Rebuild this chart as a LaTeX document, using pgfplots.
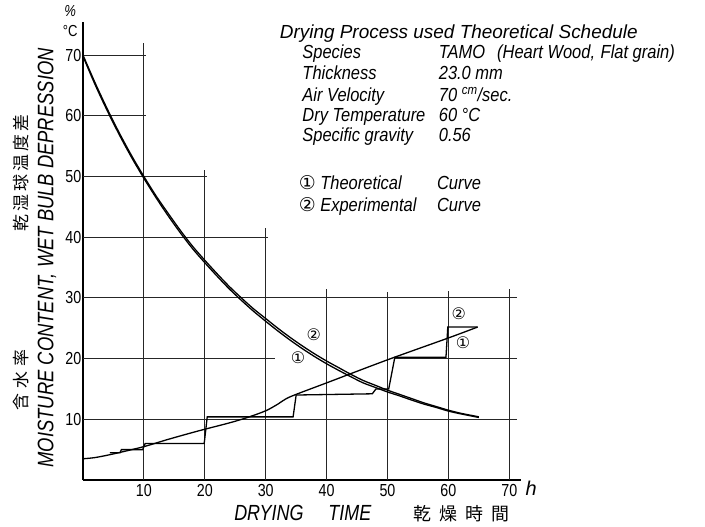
\documentclass[border=0pt]{standalone}
\usepackage{pgfplots}
\pgfplotsset{compat=1.18}
\usepackage{fontspec}
\setmainfont{Liberation Sans}
\newfontfamily\hand{Liberation Sans}
\newfontfamily\handc[FakeStretch=0.87]{Liberation Sans}
\newfontfamily\cond[FakeStretch=0.82]{Liberation Sans}
\newfontfamily\cjk{Noto Sans CJK JP}
\newfontfamily\sym{DejaVu Sans}
\begin{document}
\begin{tikzpicture}
\useasboundingbox (-83bp,-47bp) rectangle (622bp,480bp);
\begin{axis}[
  anchor=south west, at={(0,0)},
  x=6.09bp, y=6.07bp,
  xmin=0, xmax=72, ymin=0, ymax=75.5,
  axis x line=bottom, axis y line=left,
  axis line style={-, line width=1.3bp},
  xtick={10,20,...,70}, ytick={10,20,...,70},
  major tick length=0pt,
  tick label style={font=\cond\fontsize{17.5}{17.5}\selectfont},
  /pgf/number format/assume math mode=true,
  xticklabel style={yshift=-1bp},
  yticklabel style={inner sep=1.5bp},
  clip=false,
]
% grid segments (hand-drawn staircase grid)
\pgfplotsset{grid seg/.style={line width=0.9bp, black!85}}
\addplot[grid seg] coordinates {(0,70) (10.4,70)};
\addplot[grid seg] coordinates {(0,60) (10.4,60)};
\addplot[grid seg] coordinates {(0,50) (20.4,50)};
\addplot[grid seg] coordinates {(0,40) (30.4,40)};
\addplot[grid seg] coordinates {(0,30) (71.3,30)};
\addplot[grid seg] coordinates {(0,20) (31.5,20)};
\addplot[grid seg] coordinates {(51.2,20) (71.3,20)};
\addplot[grid seg] coordinates {(0,10) (71.3,10)};
\addplot[grid seg] coordinates {(10,0) (10,72)};
\addplot[grid seg] coordinates {(20,0) (20,51)};
\addplot[grid seg] coordinates {(30,0) (30,41.5)};
\addplot[grid seg] coordinates {(40,0) (40,31.4)};
\addplot[grid seg] coordinates {(50,0) (50,30.9)};
\addplot[grid seg] coordinates {(60,0) (60,31.1)};
\addplot[grid seg] coordinates {(70,0) (70,31.4)};
% moisture content curve (2) experimental (upper)
\addplot[line width=1.3bp, smooth] coordinates {
(0,70)(2,65.4)(4,61.1)(6,57.1)(8,53.4)(10,50.0)(12,46.8)(14,43.9)(16,41.1)(18,38.5)
(20,36.2)(22,34.0)(24,31.9)(26,30.0)(28,28.2)(30,26.6)(32,25.0)(34,23.5)(36,22.1)
(38,20.8)(40,19.6)(42,18.5)(44,17.4)(46,16.4)(48,15.6)(50,14.8)(52,14.1)(54,13.4)
(56,12.7)(58,12.1)(60,11.5)(62,11.0)(64,10.6)(65,10.4)};
% moisture content curve (1) theoretical (lower)
\addplot[line width=1.3bp, smooth] coordinates {
(0,69.8)(2,65.1)(4,60.8)(6,56.8)(8,53.1)(10,49.7)(12,46.5)(14,43.5)(16,40.7)(18,38.1)
(20,35.8)(22,33.6)(24,31.5)(26,29.6)(28,27.8)(30,26.15)(32,24.55)(34,23.05)(36,21.65)
(38,20.35)(40,19.15)(42,18.05)(44,17.0)(46,16.0)(48,15.25)(50,14.5)(52,13.85)(54,13.15)
(56,12.5)(58,11.95)(60,11.35)(62,10.9)(64,10.5)(65,10.3)};
% wet bulb depression (1) theoretical, smooth
\addplot[line width=1.3bp, smooth] coordinates {
(0,3.5)(2,3.7)(5,4.3)(10,5.5)(14,6.7)(19,8.1)(24,9.4)(27,10.3)(30,11.4)(32,12.5)
(34,13.7)(40,16.0)(50,19.8)(60,23.4)(64.8,25.2)};
% wet bulb depression (2) experimental, stepped
\addplot[line width=1.3bp] coordinates {
(4.4,4.5)(6.1,4.5)(6.3,5.0)(9.8,5.0)(10.2,6.0)(19.9,6.0)(20.4,10.4)(34.5,10.4)
(35.0,14.0)(47.5,14.2)(48.1,15.0)(50.2,15.0)(51.2,20.2)(59.6,20.2)(59.9,25.2)(64.8,25.2)};
% curve labels
\node[font=\sym\fontsize{16}{16}\selectfont] at (axis cs:37.9,23.9) {②};
\node[font=\sym\fontsize{16}{16}\selectfont] at (axis cs:35.3,20.2) {①};
\node[font=\sym\fontsize{16}{16}\selectfont] at (axis cs:61.7,27.4) {②};
\node[font=\sym\fontsize{16}{16}\selectfont] at (axis cs:62.4,22.6) {①};
% axis unit labels
\node[font=\cond\itshape\fontsize{16}{16}\selectfont] at (axis cs:-2.1,77.2) {\%};
\node[font=\cond\fontsize{16}{16}\selectfont] at (axis cs:-2.1,73.9) {°C};
\node[font=\hand\itshape\fontsize{20}{20}\selectfont] at (axis cs:73.6,-1.4) {h};
% y label
\node[rotate=90, font=\cond\itshape\fontsize{22.5}{22.5}\selectfont] at (axis cs:-5.9,36.6)
  {MOISTURE CONTENT, WET BULB DEPRESSION};
\node[rotate=90, font=\cjk\fontsize{17}{17}\selectfont] at (axis cs:-10.1,50.6)
  {乾\hspace{3bp}湿\hspace{3bp}球\hspace{3bp}温\hspace{3bp}度\hspace{3bp}差};
\node[rotate=90, font=\cjk\fontsize{17}{17}\selectfont] at (axis cs:-10.1,16.5)
  {含\hspace{5bp}水\hspace{5bp}率};
% x label
\node[font=\cond\itshape\fontsize{22}{22}\selectfont] at (axis cs:36.1,-5.5)
  {DRYING\hspace{25bp}TIME};
\node[font=\cjk\fontsize{18}{18}\selectfont] at (axis cs:62.2,-5.5)
  {乾\hspace{8bp}燥\hspace{8bp}時\hspace{8bp}間};
% info block
\begin{scope}[every node/.style={anchor=base west, inner sep=0pt, font=\handc\itshape\fontsize{19}{19}\selectfont}]
\node[font=\hand\itshape\fontsize{19}{19}\selectfont] at (axis cs:32.3,72.8) {Drying Process used Theoretical Schedule};
\node at (axis cs:36.0,69.5) {Species};
\node at (axis cs:58.4,69.5) {TAMO\hspace{12bp}(Heart Wood,\hspace{1bp} Flat grain)};
\node at (axis cs:36.0,65.9) {Thickness};
\node at (axis cs:58.4,65.9) {23.0 mm};
\node at (axis cs:36.0,62.4) {Air Velocity};
\node at (axis cs:58.4,62.4) {70 \textsuperscript{cm}/sec.};
\node at (axis cs:36.0,59.1) {Dry Temperature};
\node at (axis cs:58.4,59.1) {60 °C};
\node at (axis cs:36.0,55.8) {Specific gravity};
\node at (axis cs:58.4,55.8) {0.56};
\node at (axis cs:35.4,47.8) {{\sym\upshape ①} Theoretical};
\node at (axis cs:58.1,47.8) {Curve};
\node at (axis cs:35.4,44.2) {{\sym\upshape ②} Experimental};
\node at (axis cs:58.1,44.2) {Curve};
\end{scope}
\end{axis}
\end{tikzpicture}
\end{document}
